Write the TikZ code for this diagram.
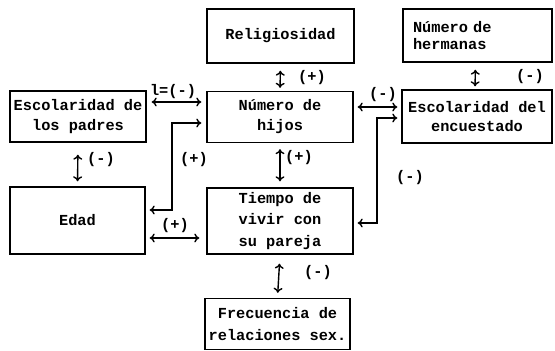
\documentclass[tikz,border=0pt]{standalone}
\usepackage{fontspec}
\usepackage{tikz}
\usetikzlibrary{shapes,arrows,arrows.meta}
\newfontfamily\maquina{Liberation Mono}

\tikzset{
  caja/.style={draw, line width=1.4pt, align=center, inner sep=0pt,
    font=\maquina\bfseries\fontsize{15.3}{20}\selectfont},
  flecha/.style={{To[length=5pt,width=9pt]}-{To[length=5pt,width=9pt]}, line width=1.4pt},
  signo/.style={inner sep=0pt, font=\maquina\bfseries\fontsize{15.3}{20}\selectfont},
}

\begin{document}
\begin{tikzpicture}[x=1pt, y=-1pt]
\useasboundingbox (0,0) rectangle (555,351);
% cajas
\node[caja, minimum width=147pt, minimum height=54pt] (relig) at (280.5,36) {Religiosidad};
\node[caja, minimum width=146pt, minimum height=51pt] (hijos) at (280,117) {N\'umero de\\hijos};
\node[caja, minimum width=146pt, minimum height=66pt, font=\maquina\bfseries\fontsize{15.3}{21.5}\selectfont] (tiempo) at (280,221) {Tiempo de\\vivir con\\su pareja};
\node[caja, minimum width=145pt, minimum height=51pt, font=\maquina\bfseries\fontsize{15.3}{22}\selectfont] (frec) at (277.5,324) {Frecuencia de\\relaciones sex.};
\node[caja, minimum width=136pt, minimum height=51pt] (padres) at (78,116.5) {Escolaridad de\\los padres};
\node[caja, minimum width=135pt, minimum height=67pt] (edad) at (77.5,220.5) {Edad};
\node[caja, minimum width=149pt, minimum height=53pt, text width=129pt, align=left, font=\maquina\bfseries\fontsize{15.3}{17}\selectfont] (herm) at (477.5,35.5) {N\'umero de\\hermanas};
\node[caja, minimum width=150pt, minimum height=53pt, font=\maquina\bfseries\fontsize{15.3}{19}\selectfont] (encu) at (477,116.5) {Escolaridad del\\encuestado};

% flechas
\draw[flecha, shorten <=7pt, shorten >=3pt] (relig.south) -- (hijos.north);
\draw[flecha, shorten <=6pt, shorten >=6pt] (hijos.south) -- (tiempo.north);
\draw[flecha, shorten <=9pt, shorten >=5pt] (tiempo.south) -- (frec.north);
\draw[flecha, shorten <=12pt, shorten >=5pt] (padres.south) -- (edad.north);
\draw[flecha, shorten <=7pt, shorten >=3pt] ([xshift=-2pt]herm.south) -- ([xshift=-2pt]encu.north);
\draw[flecha, shorten <=5pt, shorten >=5pt] ([yshift=14.5pt]padres.east) -- ([yshift=15pt]hijos.west);
\draw[flecha, shorten <=4pt, shorten >=4pt] ([yshift=10pt]hijos.east) -- ([yshift=9.5pt]encu.west);
\draw[flecha, shorten <=4pt, shorten >=7pt] ([yshift=-17.5pt]edad.east) -- ([yshift=-17pt]tiempo.west);
\coordinate (codoI) at (172,123);
\coordinate (codoD) at (377,118);
\draw[flecha, shorten <=4pt, shorten >=5pt] ([yshift=10.5pt]edad.east) -| (codoI) |- ([yshift=-6pt]hijos.west);
\draw[flecha, shorten <=4pt, shorten >=4pt] ([yshift=-2pt]tiempo.east) -| (codoD) |- ([yshift=-1.5pt]encu.west);

% signos
\node[signo] (sRH) at (312,78) {(+)};
\node[signo] (sHT) at (299,158) {(+)};
\node[signo] (sTF) at (318,273) {(-)};
\node[signo] (sPE) at (101,160) {(-)};
\node[signo] (sEH) at (194,160) {(+)};
\node[signo] (sET) at (175,226) {(+)};
\node[signo] (sPH) at (173,92) {l=(-)};
\node[signo] (sHE) at (383,95) {(-)};
\node[signo] (sTE) at (410,178) {(-)};
\node[signo] (sHE2) at (530,77) {(-)};
\end{tikzpicture}
\end{document}
